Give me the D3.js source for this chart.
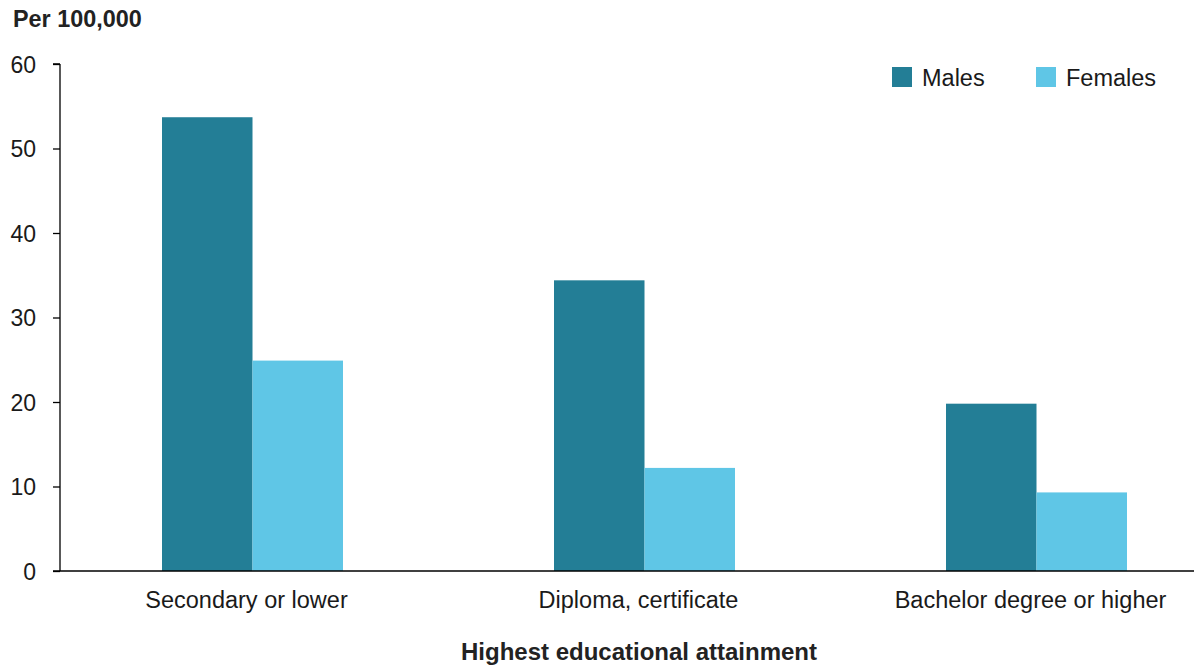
<!DOCTYPE html>
<html><head><meta charset="utf-8">
<script src="https://cdn.jsdelivr.net/npm/d3@7"></script>
<style>body{margin:0;background:#fff;}svg{display:block;font-family:"Liberation Sans",Arial,sans-serif;}</style>
</head><body><svg id="c" width="1194" height="667"></svg>
<script>
const categories = ["Secondary or lower", "Diploma, certificate", "Bachelor degree or higher"];
const series = ["Males", "Females"];
const males = [53.7, 34.4, 19.8];
const females = [24.9, 12.2, 9.3];
const yTicks = [0, 10, 20, 30, 40, 50, 60];
const colors = {Males: "#237E96", Females: "#5FC6E6"};

const svg = d3.select("#c");
const x0 = d3.scaleBand().domain(categories).range([56.5, 1232.5]).padding(0);
const bw = x0.bandwidth();
const x1 = d3.scaleBand().domain(series).range([bw/2 - 90.5, bw/2 + 90.5]).padding(0);
const y = d3.scaleLinear().domain([0, 60]).range([571, 64]);

const data = categories.map((c, i) => ({cat: c, Males: males[i], Females: females[i]}));

const g = svg.append("g");
g.selectAll("g.grp").data(data).join("g").attr("class", "grp")
  .attr("transform", d => `translate(${x0(d.cat)},0)`)
  .selectAll("rect").data(d => series.map(s => ({s, v: d[s]}))).join("rect")
  .attr("x", d => x1(d.s)).attr("width", x1.bandwidth())
  .attr("y", d => y(d.v)).attr("height", d => y(0) - y(d.v))
  .attr("fill", d => colors[d.s]);

// y axis
const ya = svg.append("g").attr("transform", "translate(60,0)")
  .call(d3.axisLeft(y).tickValues(yTicks).tickSize(7).tickPadding(17));
ya.select(".domain").attr("stroke", "#000").attr("stroke-width", 1.3).attr("d", `M0,${y(60)}H-7M0,${y(60)}V${y(0)}`);
ya.selectAll(".tick line").attr("stroke", "#000").attr("stroke-width", 1.3);
ya.selectAll(".tick text").attr("font-size", 23).attr("fill", "#1a1a1a").attr("dy", "0.35em");

// x axis
const xa = svg.append("g").attr("transform", `translate(0,${y(0)})`)
  .call(d3.axisBottom(x0).tickSize(0).tickPadding(20));
xa.select(".domain").attr("stroke", "#000").attr("stroke-width", 1.3).attr("d", `M53,0H1194`);
xa.selectAll(".tick text").attr("font-size", 23.5).attr("fill", "#1a1a1a").attr("dx", -6);

// titles
svg.append("text").attr("x", 13).attr("y", 27).attr("font-size", 23.4).attr("font-weight", "bold").attr("fill", "#222").text("Per 100,000");
svg.append("text").attr("x", 639).attr("y", 660).attr("text-anchor", "middle").attr("font-size", 24).attr("font-weight", "bold").attr("fill", "#222").text("Highest educational attainment");

// legend
const legX = [892, 1036];
const lg = svg.append("g");
series.forEach((s, i) => {
  lg.append("rect").attr("x", legX[i]).attr("y", 67).attr("width", 20).attr("height", 20).attr("fill", colors[s]);
  lg.append("text").attr("x", legX[i] + 30).attr("y", 86).attr("font-size", 23.5).attr("fill", "#1a1a1a").text(s);
});
</script></body></html>
